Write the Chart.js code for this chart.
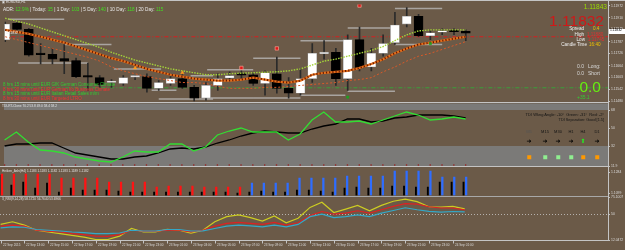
<!DOCTYPE html>
<html><head><meta charset="utf-8">
<script src="https://cdn.jsdelivr.net/npm/chart.js@4.4.1/dist/chart.umd.min.js"></script>
<style>
html,body{margin:0;padding:0;}
body{width:625px;height:250px;overflow:hidden;background:#6b5a48;position:relative;font-family:"Liberation Sans",Arial,sans-serif;}
canvas{position:absolute;left:0;top:0;}
.t{position:absolute;white-space:nowrap;line-height:1;transform:translateY(-50%);}
.r{transform:translate(-100%,-50%);}
.m{transform:translate(-50%,-50%);}
.h{position:absolute;height:1px;background:#c4c4c4;}
.sq{position:absolute;width:3.5px;height:3.5px;transform:translate(-50%,-50%);}
</style></head><body>
<canvas id="cMain" width="625" height="250"></canvas>
<canvas id="cTdi" width="625" height="250"></canvas>
<canvas id="cHa" width="625" height="250"></canvas>
<canvas id="cRsi" width="625" height="250"></canvas>

<div class="h" style="left:0;top:0;width:625px"></div>
<div class="h" style="left:0;top:102px;width:608px"></div>
<div class="h" style="left:0;top:166px;width:608px"></div>
<div class="h" style="left:0;top:196px;width:608px;background:#a8a8a8"></div>
<div class="h" style="left:0;top:240px;width:608px"></div>
<div style="position:absolute;left:608px;top:0;width:1px;height:241px;background:#c4c4c4"></div>

<!-- main panel texts -->
<div class="t" style="left:2px;top:3px;font-size:3.4px;color:#e0e0e0">&#9635; EURUSD,H1</div>
<div class="t" style="left:3px;top:10px;font-size:4.7px;color:#e8e8e8">ADR: <span style="color:#44dd22">12.9%</span> | Today: <span style="color:#44dd22">15</span> | 1 Day: <span style="color:#44dd22">103</span> | 5 Day: <span style="color:#44dd22">140</span> | 10 Day: <span style="color:#44dd22">118</span> | 20 Day: <span style="color:#44dd22">115</span></div>
<div class="t" style="left:6px;top:33.5px;font-size:3.4px;color:#e6e6e6">1.11832</div>
<div class="t" style="left:3px;top:85px;font-size:4.5px;color:#33cc33">8 hrs 15 mins until EUR GfK German Consumer Climate</div>
<div class="t" style="left:3px;top:89.7px;font-size:4.5px;color:#ee3333">8 hrs 30 mins until EUR German Ifo Business Climate</div>
<div class="t" style="left:3px;top:94.4px;font-size:4.5px;color:#33cc33">8 hrs 15 mins until EUR Italian Retail Sales m/m</div>
<div class="t" style="left:3px;top:99px;font-size:4.5px;color:#ee3333">8 hrs 30 mins until EUR Targeted LTRO</div>

<div class="t r" style="left:607px;top:6.5px;font-size:6.6px;color:#99dd00">1.11843</div>
<div class="t r" style="left:604px;top:20.5px;font-size:15.5px;color:#d01818">1.11832</div>
<div class="t r" style="left:584px;top:29px;font-size:4.6px;color:#f0f0f0">Spread</div>
<div class="t" style="left:593px;top:29px;font-size:4.6px;color:#f0c000">0.4</div>
<div class="t r" style="left:584px;top:34.5px;font-size:4.6px;color:#f0f0f0">High</div>
<div class="t" style="left:587px;top:34.5px;font-size:4.6px;color:#e03030">1.11880</div>
<div class="t r" style="left:585px;top:40px;font-size:4.6px;color:#f0f0f0">Low</div>
<div class="t" style="left:588px;top:40px;font-size:4.6px;color:#e03030">1.11745</div>
<div class="t r" style="left:587px;top:45px;font-size:4.6px;color:#f0f0f0">Candle Time</div>
<div class="t" style="left:589px;top:45px;font-size:4.6px;color:#f0c000">16:40</div>
<div class="t" style="left:577px;top:65.5px;font-size:5px;color:#d8d8d8">0.0</div>
<div class="t" style="left:588px;top:65.5px;font-size:5px;color:#d8d8d8">Long:</div>
<div class="t" style="left:577px;top:72.5px;font-size:5px;color:#d8d8d8">0.0</div>
<div class="t" style="left:588px;top:72.5px;font-size:5px;color:#d8d8d8">Short</div>
<div class="t r" style="left:601px;top:86.5px;font-size:15.5px;color:#66ee11">0.0</div>
<div class="t" style="left:577px;top:97px;font-size:5px;color:#33cc33">+35.1</div>
<div style="position:absolute;left:609px;top:28.5px;width:16px;height:5px;background:#ffffff"></div>
<div class="t" style="left:610px;top:31px;font-size:3.4px;color:#000">1.11832</div>

<!-- TDI texts -->
<div class="t" style="left:2px;top:107px;font-size:3.2px;color:#e0e0e0">TDI-RT-Clone 70.2 53.8 49.0 58.4 58.2</div>
<div class="t r" style="left:604px;top:115px;font-size:4px;color:#151515">TDI Wkng Angle: -10°&nbsp; Green: -31°&nbsp; Red: -2°</div>
<div class="t r" style="left:604px;top:121px;font-size:3.8px;color:#151515">TDI Separation: Good [1.5]</div>
<div class="t m" style="left:529px;top:132px;font-size:4px;color:#555">M5</div>
<div class="t m" style="left:545px;top:132px;font-size:4px;color:#151515">M15</div>
<div class="t m" style="left:558px;top:132px;font-size:4px;color:#151515">M30</div>
<div class="t m" style="left:571px;top:132px;font-size:4px;color:#151515">H1</div>
<div class="t m" style="left:583px;top:132px;font-size:4px;color:#151515">H4</div>
<div class="t m" style="left:597px;top:132px;font-size:4px;color:#151515">D1</div>
<div class="t m" style="left:529px;top:141px;font-size:6px;color:#000;font-family:'DejaVu Sans'">&#10140;</div>
<div class="t m" style="left:545px;top:141px;font-size:6px;color:#000;font-family:'DejaVu Sans'">&#10140;</div>
<div class="t m" style="left:558px;top:141px;font-size:6px;color:#000;font-family:'DejaVu Sans'">&#10140;</div>
<div class="t m" style="left:571px;top:141px;font-size:6px;color:#000;font-family:'DejaVu Sans'">&#10140;</div>
<div class="t m" style="left:583px;top:141px;font-size:6px;color:#22ee22;font-family:'DejaVu Sans'">&#11014;</div>
<div class="t m" style="left:597px;top:141px;font-size:6px;color:#000;font-family:'DejaVu Sans'">&#10140;</div>
<div class="sq" style="left:529px;top:157px;background:#ff9900"></div>
<div class="sq" style="left:545px;top:157px;background:#90ee90"></div>
<div class="sq" style="left:558px;top:157px;background:#90ee90"></div>
<div class="sq" style="left:571px;top:157px;background:#90ee90"></div>
<div class="sq" style="left:583px;top:157px;background:#ff9900"></div>
<div class="sq" style="left:597px;top:157px;background:#ff9900"></div>

<div class="t" style="left:2px;top:172px;font-size:3.2px;color:#e0e0e0">Heiken_Ashi(H4) 1.1183 1.1183 1.1182 1.1183 1.1189 1.1182</div>
<div class="t" style="left:2px;top:199.5px;font-size:3.2px;color:#e0e0e0">3_RSI(9,14,28) 58.1720 56.7640 53.6966</div>

<script>
// ---------------- data ----------------
const opens  = [1.11797,1.11882,1.11850,1.11722,1.11722,1.11700,1.11690,1.11607,1.11602,1.11577,1.11572,1.11605,1.11607,1.11547,1.11572,1.11597,1.11552,1.11497,1.11562,1.11600,1.11617,1.11617,1.11572,1.11622,1.11547,1.11522,1.11597,1.11725,1.11732,1.11597,1.11797,1.11657,1.11727,1.11782,1.11877,1.11917,1.11817,1.11835,1.11840,1.11840];
const highs  = [1.11887,1.11885,1.11855,1.11777,1.11752,1.11772,1.11702,1.11677,1.11612,1.11592,1.11612,1.11612,1.11622,1.11587,1.11607,1.11627,1.11562,1.11577,1.11622,1.11632,1.11637,1.11627,1.11637,1.11707,1.11602,1.11647,1.11777,1.11792,1.11752,1.11822,1.11862,1.11752,1.11822,1.11937,1.11962,1.11927,1.11842,1.11852,1.11852,1.11847];
const lows   = [1.11787,1.11847,1.11712,1.11672,1.11672,1.11622,1.11602,1.11537,1.11552,1.11552,1.11562,1.11592,1.11527,1.11537,1.11562,1.11547,1.11482,1.11487,1.11537,1.11597,1.11597,1.11562,1.11512,1.11522,1.11497,1.11512,1.11577,1.11697,1.11562,1.11537,1.11637,1.11637,1.11712,1.11772,1.11862,1.11812,1.11797,1.11822,1.11822,1.11792];
const closes = [1.11877,1.11850,1.11717,1.11720,1.11697,1.11687,1.11607,1.11605,1.11567,1.11578,1.11602,1.11608,1.11547,1.11577,1.11597,1.11552,1.11497,1.11562,1.11597,1.11612,1.11615,1.11572,1.11627,1.11547,1.11522,1.11597,1.11727,1.11732,1.11597,1.11797,1.11652,1.11727,1.11777,1.11872,1.11917,1.11817,1.11832,1.11842,1.11838,1.11830];

const maGreen  = [1.11907,1.11892,1.11877,1.11857,1.11837,1.11817,1.11797,1.11777,1.11757,1.11732,1.11712,1.11692,1.11677,1.11662,1.11647,1.11637,1.11627,1.11617,1.11617,1.11622,1.11625,1.11627,1.11630,1.11632,1.11637,1.11647,1.11667,1.11687,1.11697,1.11712,1.11727,1.11742,1.11762,1.11792,1.11822,1.11842,1.11847,1.11847,1.11847,1.11847];
const maOrange = [1.11847,1.11837,1.11827,1.11812,1.11797,1.11782,1.11762,1.11742,1.11722,1.11702,1.11687,1.11667,1.11647,1.11632,1.11617,1.11607,1.11597,1.11592,1.11587,1.11587,1.11592,1.11602,1.11592,1.11582,1.11577,1.11587,1.11617,1.11627,1.11632,1.11637,1.11652,1.11672,1.11697,1.11727,1.11752,1.11772,1.11782,1.11792,1.11802,1.11812];
const maRed    = [1.11812,1.11797,1.11782,1.11767,1.11752,1.11737,1.11722,1.11707,1.11687,1.11657,1.11637,1.11622,1.11607,1.11597,1.11587,1.11577,1.11577,1.11572,1.11557,1.11547,1.11547,1.11547,1.11552,1.11552,1.11557,1.11562,1.11567,1.11572,1.11577,1.11587,1.11592,1.11602,1.11632,1.11657,1.11687,1.11712,1.11727,1.11747,1.11767,1.11787];
const redLevel = 1.11812;
const greenLevel = 1.11550;
// H4 range lines: [startIndex, endIndex, price]
const rangeSegs = [[0.25,5,1.11902],[1.1,7,1.11677],[5,9,1.11772],[9.2,13.2,1.11647],[12.4,14.5,1.11537],[13,17.6,1.11492],[15.7,17.6,1.11612],[17.1,21,1.11642],[17.1,21,1.11497],[21,25,1.11702],[21,25,1.11497],[25,28.8,1.11792],[25,28.8,1.11512],[29,33,1.11857],[29,33,1.11532],[33,37,1.11957],[33,37,1.11772]];
const redMarks = [[20,1.11652],[23,1.11752],[30,1.11972]];
const orangeMarks = [[11,1.11652],[15,1.11627]];
const greenMarks = [[29,1.11502],[36,1.11777]];
const priceTicks = [1.11972,1.11910,1.11849,1.11787,1.11726,1.11664,1.11603,1.11542,1.11480];

const tdiGreen = [38,46,36,28,27,25,21,19,17,16,21,27,26,26,34,34,27,31,43,47,50,46,46,46,38,44,58,66,56,56,57,54,58,62,66,63,58,59,61,59];
const tdiBlack = [32,34,34,35,35,30,25,23,21,19,19,21,22,25,29,30,29,31,35,38,42,45,47,46,45,45,49,52,54,59,59,56,57,60,61,63,63,63,62,60];
const tdiDotLevel = 13;
const tdiBandLevels = [68,32];
const tdiTicks = [68,50,32,11.9];

const haDir      = ['d','d','d','d','d','d','d','d','d','d','d','d','d','d','d','d','d','d','d','d','d','u','u','u','u','u','u','u','u','u','u','u','u','u','u','u','u','u','u','u'];
const haColorTop = [1.12664,1.12664,1.12664,1.12664,1.12664,1.12312,1.12312,1.12312,1.12312,1.11959,1.11959,1.11959,1.11959,1.11519,1.11607,1.11607,1.11607,1.11519,1.11519,1.11519,1.11519,1.11871,1.11871,1.11871,1.11871,1.12312,1.12312,1.12312,1.12312,1.12488,1.12488,1.12488,1.12488,1.12928,1.12928,1.12928,1.12928,1.12400,1.12400,1.12400];
const haBlackTop = [1.12576,1.11695,1.11959,1.11431,1.11871,1.11078,1.11431,1.11254,1.11254,1.11254,1.11166,1.11078,1.11078,1.11078,1.11078,1.11078,1.11078,1.11078,1.11078,1.11078,1.10990,1.11078,1.11166,1.11078,1.11078,1.11254,1.11254,1.11166,1.11078,1.11431,1.11519,1.11431,1.11431,1.11607,1.11607,1.11519,1.11519,1.11959,1.11959,1.11959];
const haTicks = [1.1284,1.1099];

const rsiYellow = [35.2,39.1,34.1,26.5,23.9,21.5,18.9,16.3,12.8,12.8,17.8,29.1,23.9,23.9,28.0,26.5,22.4,26.5,39.1,46.7,49.3,45.2,40.2,47.8,37.6,44.3,60.4,68.0,52.8,57.9,63.4,55.4,63.4,69.5,72.8,69.0,61.4,61.0,61.9,58.2];
const rsiRed    = [32.6,34.1,32.6,26.5,25.0,23.9,21.5,20.0,17.8,17.4,20.0,26.5,25.0,25.0,26.5,26.5,23.9,26.5,32.6,36.7,38.2,36.7,35.2,38.2,34.1,37.6,48.2,54.3,50.3,51.9,55.4,51.9,56.9,61.9,66.0,65.2,61.4,59.5,59.5,56.8];
const rsiCyan   = [30.0,31.5,31.0,27.6,26.5,25.4,23.9,23.0,21.5,21.5,22.4,26.5,25.4,25.4,27.6,27.6,25.4,25.7,29.1,32.6,34.1,33.0,31.5,34.1,31.5,35.2,46.7,50.3,45.2,46.7,49.3,46.7,51.9,55.8,59.9,56.9,54.6,53.4,54.3,53.7];
const rsiLevels = [50];
const rsiTicks = [75.1007,50,12.0472];

const timeLabels = ["22 Sep 2015","22 Sep 13:00","22 Sep 15:00","22 Sep 17:00","22 Sep 19:00","22 Sep 21:00","22 Sep 23:00","23 Sep 01:00","23 Sep 03:00","23 Sep 05:00","23 Sep 07:00","23 Sep 09:00","23 Sep 11:00","23 Sep 13:00","23 Sep 15:00","23 Sep 17:00","23 Sep 19:00","23 Sep 21:00","23 Sep 23:00","24 Sep 01:00"];
const timeLabelEvery = 2;

// ---------------- helpers ----------------
Chart.defaults.font.family = "'Liberation Sans', Arial, sans-serif";
const idx = opens.map((_, i) => i);
const XSCALE = () => ({type: 'linear', display: false, offset: false, min: -0.05, max: 51.04, grid: {offset: false}});
function yAx(min, max, ticks, fmt) {
  return {
    position: 'right', min, max,
    afterBuildTicks: s => { s.ticks = ticks.map(v => ({value: v})); },
    afterFit: s => { s.width = 17; s.paddingTop = 0; s.paddingBottom = 0; },
    grid: {display: true, drawOnChartArea: false, drawTicks: true, tickLength: 2, color: '#c4c4c4'},
    border: {display: true, color: '#c4c4c4'},
    ticks: {color: '#dcdcdc', font: {size: 3.4}, padding: 1, autoSkip: false, callback: fmt}
  };
}
const ser = arr => arr.map((v, i) => ({x: i, y: v}));
const base = (padTop, padBottom) => ({
  responsive: false, animation: false, events: [],
  layout: {padding: {top: padTop, bottom: padBottom, left: 0, right: 0}},
  plugins: {legend: {display: false}, tooltip: {enabled: false}}
});

// ---------------- main chart ----------------
const bull = idx.map(i => closes[i] >= opens[i]);
const segData = [];
rangeSegs.forEach(([s, e, p]) => { segData.push({x: s, y: p}, {x: e, y: p}, {x: e, y: null}); });
const mainOpts = base(2, 148);
mainOpts.scales = {x: XSCALE(), y: yAx(1.11477, 1.11977, priceTicks, v => Number(v).toFixed(5))};
new Chart(document.getElementById('cMain'), {
  type: 'bar',
  data: {datasets: [
    {type: 'scatter', data: redMarks.map(([x, y]) => ({x, y})), pointStyle: 'rect', pointRadius: 2.4, backgroundColor: '#e01818', borderColor: '#ffb0a0', borderWidth: 0.6, order: 0},
    {type: 'scatter', data: orangeMarks.map(([x, y]) => ({x, y})), pointStyle: 'triangle', pointRadius: 2, backgroundColor: '#ff9a20', borderColor: '#ff9a20', borderWidth: 0.5, order: 0},
    {type: 'scatter', data: greenMarks.map(([x, y]) => ({x, y})), pointStyle: 'rect', pointRadius: 1.6, backgroundColor: '#20a020', borderColor: '#20a020', borderWidth: 0.5, order: 0},
    {type: 'line', data: ser(maGreen), borderColor: '#a4d23a', borderWidth: 1.4, borderDash: [1.5, 1.2], pointRadius: 0, order: 1},
    {type: 'line', data: ser(maOrange), borderColor: '#6a1a00', borderWidth: 2, borderDash: [1.2, 2], pointRadius: 0, order: 1},
    {type: 'line', data: ser(maOrange), borderColor: '#e4701c', borderWidth: 2.2, pointRadius: 0, order: 2},
    {type: 'line', data: ser(maRed), borderColor: '#d65a2a', borderWidth: 1, borderDash: [2, 2], pointRadius: 0, order: 2},
    {data: idx.map(i => ({x: i, y: [Math.min(opens[i], closes[i]), Math.max(opens[i], closes[i])]})),
      backgroundColor: bull.map(b => b ? '#ffffff' : '#000000'), borderColor: bull.map(b => b ? '#9a9a9a' : '#000000'),
      borderWidth: 0.6, borderSkipped: false, barThickness: 9, grouped: false, minBarLength: 1.5, order: 4},
    {data: idx.map(i => ({x: i, y: [lows[i], highs[i]]})), backgroundColor: '#2a2a2a', barThickness: 1, grouped: false, order: 5},
    {type: 'line', data: [{x: -1, y: redLevel}, {x: 60, y: redLevel}], borderColor: '#d42020', borderWidth: 1, borderDash: [4, 2, 1, 2], pointRadius: 0, order: 6},
    {type: 'line', data: [{x: -1, y: greenLevel}, {x: 60, y: greenLevel}], borderColor: '#3aa03a', borderWidth: 1, borderDash: [4, 2, 1, 2], pointRadius: 0, order: 6},
    {type: 'line', data: segData, borderColor: 'rgba(190,190,190,0.75)', borderWidth: 1.5, pointRadius: 0, spanGaps: false, order: 7}
  ]},
  options: mainOpts
});

// ---------------- TDI chart ----------------
const tdiBands = {
  id: 'tdiBands',
  beforeDatasetsDraw(chart) {
    const {ctx, chartArea: a, scales: {y}} = chart;
    const yHi = y.getPixelForValue(tdiBandLevels[0]);
    const yLo = y.getPixelForValue(tdiBandLevels[1]);
    ctx.save();
    ctx.fillStyle = '#7b7a78';
    ctx.fillRect(a.left, a.top, a.right - a.left, yHi - a.top);
    ctx.fillRect(a.left, yLo, a.right - a.left, a.bottom - yLo);
    ctx.restore();
  }
};
const tdiOpts = base(103.5, 250 - 166.1);
tdiOpts.scales = {x: XSCALE(), y: yAx(11.9, 74.5, tdiTicks, v => Number.isInteger(v) ? String(v) : v.toFixed(1))};
new Chart(document.getElementById('cTdi'), {
  type: 'line',
  data: {datasets: [
    {type: 'scatter', data: idx.map(i => ({x: i, y: tdiDotLevel})), pointStyle: 'circle', pointRadius: 0.8, backgroundColor: '#9a1a1a', borderWidth: 0, order: 0},
    {data: ser(tdiGreen), borderColor: '#33dd33', borderWidth: 1.3, pointRadius: 0, order: 1},
    {data: ser(tdiBlack), borderColor: '#000000', borderWidth: 1.3, pointRadius: 0, order: 2}
  ]},
  options: tdiOpts,
  plugins: [tdiBands]
});

// ---------------- Heiken Ashi chart ----------------
const haMin = 1.10770, haMax = 1.13193;
const haOpts = base(168, 250 - 195.5);
haOpts.scales = {x: XSCALE(), y: yAx(haMin, haMax, haTicks, v => Number(v).toFixed(4))};
new Chart(document.getElementById('cHa'), {
  type: 'bar',
  data: {datasets: [
    {data: idx.map(i => ({x: i - 0.1, y: [haMin, haBlackTop[i]]})), backgroundColor: '#000000', barThickness: 1.2, grouped: false, order: 0},
    {data: idx.map(i => ({x: i + 0.12, y: [haMin, haColorTop[i]]})), backgroundColor: haDir.map(d => d === 'd' ? '#ff1414' : '#2f6dff'), barThickness: 1.6, grouped: false, order: 1}
  ]},
  options: haOpts
});

// ---------------- RSI chart ----------------
const rsiLevelPlugin = {
  id: 'rsiLevel',
  beforeDatasetsDraw(chart) {
    const {ctx, chartArea: a, scales: {y}} = chart;
    ctx.save();
    ctx.strokeStyle = '#c8c8c8'; ctx.lineWidth = 0.8; ctx.setLineDash([1, 2]);
    rsiLevels.forEach(l => { const py = Math.round(y.getPixelForValue(l)) + 0.5; ctx.beginPath(); ctx.moveTo(a.left, py); ctx.lineTo(a.right, py); ctx.stroke(); });
    ctx.restore();
  }
};
const timeAxis = {
  id: 'timeAxis',
  afterDraw(chart) {
    const {ctx, chartArea: a, scales: {x}} = chart;
    ctx.save();
    ctx.strokeStyle = '#c4c4c4'; ctx.lineWidth = 1; ctx.fillStyle = '#dcdcdc';
    ctx.font = "3.1px 'Liberation Sans', Arial, sans-serif";
    ctx.textBaseline = 'middle'; ctx.textAlign = 'left';
    timeLabels.forEach((lab, k) => {
      const px = Math.round(x.getPixelForValue(k * timeLabelEvery)) + 0.5;
      ctx.beginPath(); ctx.moveTo(px, a.bottom); ctx.lineTo(px, a.bottom + 3.5); ctx.stroke();
      ctx.fillText(lab, px + 1.5, 245.5);
    });
    ctx.restore();
  }
};
const rsiOpts = base(197.5, 10);
rsiOpts.scales = {x: XSCALE(), y: yAx(12.0472, 75.1007, rsiTicks, v => v === 50 ? '50' : Number(v).toFixed(4))};
new Chart(document.getElementById('cRsi'), {
  type: 'line',
  data: {datasets: [
    {data: ser(rsiYellow), borderColor: '#cccc22', borderWidth: 1.2, pointRadius: 0, order: 2},
    {data: ser(rsiRed), borderColor: '#dd2222', borderWidth: 1.2, pointRadius: 0, order: 1},
    {data: ser(rsiCyan), borderColor: '#33a8c8', borderWidth: 1.2, pointRadius: 0, order: 0}
  ]},
  options: rsiOpts,
  plugins: [rsiLevelPlugin, timeAxis]
});
</script>
</body></html>
